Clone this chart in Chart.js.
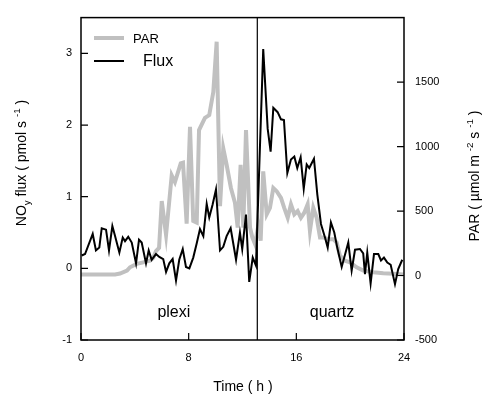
<!DOCTYPE html>
<html>
<head>
<meta charset="utf-8">
<script src="https://cdn.jsdelivr.net/npm/chart.js@4.4.1/dist/chart.umd.min.js"></script>
<style>
  html, body { margin: 0; padding: 0; background: #fff; }
  #wrap { width: 486px; height: 405px; }
</style>
</head>
<body>
<div id="wrap"><canvas id="fluxChart" width="486" height="405"></canvas></div>
<script>
// NOy flux (left axis) readings
const fluxTime = [0.05, 0.30, 0.87, 1.11, 1.36, 1.54, 1.86, 2.08, 2.33, 2.53, 2.85, 3.10, 3.27, 3.51, 3.77,
  4.09, 4.31, 4.51, 4.83, 5.03, 5.25, 5.57, 5.82, 6.11, 6.32, 6.56, 6.81, 7.06, 7.30, 7.56, 7.80, 8.05,
  8.34, 8.60, 8.84, 9.09, 9.34, 9.53, 9.78, 10.03, 10.33, 10.57, 10.82, 11.12, 11.52, 11.81, 11.98, 12.26,
  12.50, 12.76, 13.00, 13.54, 13.87, 14.09, 14.29, 14.61, 14.86, 15.08, 15.33, 15.60, 15.85, 16.07, 16.32,
  16.55, 16.77, 16.96, 17.31, 17.56, 17.83, 18.13, 18.33, 18.57, 18.82, 19.04, 19.37, 19.86, 20.11, 20.36,
  20.73, 20.97, 21.10, 21.27, 21.52, 21.77, 22.09, 22.29, 22.51, 22.76, 23.01, 23.33, 23.57, 23.87];
const fluxValues = [0.18, 0.20, 0.48, 0.25, 0.29, 0.56, 0.54, 0.25, 0.59, 0.45, 0.22, 0.43, 0.38, 0.44, 0.36,
  0.07, 0.40, 0.36, 0.07, 0.25, 0.12, 0.20, 0.16, 0.13, -0.05, 0.07, 0.13, -0.17, 0.12, 0.27, 0.02, 0.00,
  0.15, 0.35, 0.55, 0.45, 0.90, 0.71, 0.89, 1.10, 0.25, 0.30, 0.45, 0.56, 0.12, 0.50, 0.27, 0.75,
  -0.19, 0.15, 0.04, 3.06, 1.95, 1.63, 2.24, 2.18, 2.08, 2.07, 1.33, 1.52, 1.56, 1.40, 1.55,
  1.11, 1.45, 1.40, 1.53, 1.03, 0.62, 0.43, 0.29, 0.64, 0.50, 0.29, 0.02, 0.36, -0.03, 0.26,
  0.27, 0.21, -0.08, 0.22, -0.21, 0.20, 0.20, 0.11, 0.15, 0.08, 0.05, -0.22, -0.01, 0.12];

// PAR (right axis) readings
const parTime = [0, 2.53, 2.90, 3.42, 3.64, 4.14, 4.63, 5.13, 5.37, 5.57, 5.80, 6.00, 6.32, 6.74, 6.98,
  7.41, 7.58, 7.85, 8.10, 8.34, 8.60, 8.77, 9.21, 9.53, 9.83, 10.08, 10.33, 10.57, 10.82, 11.14, 11.44,
  11.64, 11.86, 12.06, 12.26, 12.56, 12.73, 12.93, 13.17, 13.35, 13.54, 13.80, 14.04, 14.29, 14.54, 14.86,
  15.10, 15.36, 15.60, 15.85, 16.10, 16.34, 16.59, 16.84, 17.01, 17.26, 17.51, 17.76, 18.00, 18.37, 18.74,
  19.00, 19.24, 19.61, 19.99, 20.48, 20.97, 21.72, 22.46, 23.20, 23.95];
const parValues = [8, 8, 15, 38, 64, 90, 102, 115, 138, 190, 215, 577, 315, 777, 725,
  870, 875, 402, 1154, 423, 410, 1128, 1223, 1244, 1423, 1813, 538, 987, 859, 679, 564,
  372, 859, 372, 1128, 372, 295, 244, 385, 270, 808, 475, 525, 679, 654, 602,
  525, 448, 552, 475, 500, 448, 487, 552, 346, 525, 448, 295, 295, 282, 282,
  256, 154, 115, 102, 64, 38, 25, 18, 13, 8];

const xTicks = [0, 8, 16, 24];
const fluxTicks = [-1, 0, 1, 2, 3];
const parTicks = [-500, 0, 500, 1000, 1500];
const splitTime = 13.1;   // plexi -> quartz
const regionLabels = [{ text: 'plexi', t: 6.9 }, { text: 'quartz', t: 18.65 }];

const FONT = '"Liberation Sans", Arial, sans-serif';

// draw a run of text pieces, some raised/lowered, starting at x (baseline y)
function drawPieces(ctx, pieces, x, y, size) {
  pieces.forEach(p => {
    const s = p.small ? size * 0.7 : size;
    ctx.font = s + 'px ' + FONT;
    const dy = p.sup ? -size * 0.45 : (p.sub ? size * 0.3 : 0);
    ctx.fillText(p.text, x, y + dy);
    x += ctx.measureText(p.text).width;
  });
}
function piecesWidth(ctx, pieces, size) {
  let w = 0;
  pieces.forEach(p => {
    ctx.font = (p.small ? size * 0.7 : size) + 'px ' + FONT;
    w += ctx.measureText(p.text).width;
  });
  return w;
}

const decorPlugin = {
  id: 'decor',
  afterDraw(chart) {
    const ctx = chart.ctx;
    const a = chart.chartArea;
    const xs = chart.scales.x, yl = chart.scales.y, yr = chart.scales.y1;
    ctx.save();
    ctx.strokeStyle = '#000';
    ctx.fillStyle = '#000';

    // frame
    ctx.lineWidth = 1.5;
    ctx.strokeRect(a.left, a.top, a.right - a.left, a.bottom - a.top);

    // inward ticks
    ctx.lineWidth = 1.2;
    ctx.beginPath();
    xTicks.forEach(v => { const px = xs.getPixelForValue(v); ctx.moveTo(px, a.bottom); ctx.lineTo(px, a.bottom - 7); });
    fluxTicks.forEach(v => { const py = yl.getPixelForValue(v); ctx.moveTo(a.left, py); ctx.lineTo(a.left + 7, py); });
    parTicks.forEach(v => { const py = yr.getPixelForValue(v); ctx.moveTo(a.right, py); ctx.lineTo(a.right - 7, py); });
    ctx.stroke();

    // split line
    const sx = xs.getPixelForValue(splitTime);
    ctx.lineWidth = 1.2;
    ctx.beginPath();
    ctx.moveTo(sx, a.top);
    ctx.lineTo(sx, a.bottom);
    ctx.stroke();

    // region labels
    ctx.font = '16px ' + FONT;
    ctx.textAlign = 'center';
    ctx.textBaseline = 'alphabetic';
    regionLabels.forEach(r => ctx.fillText(r.text, xs.getPixelForValue(r.t), 317));

    // legend
    ctx.textAlign = 'left';
    ctx.textBaseline = 'middle';
    ctx.lineCap = 'butt';
    ctx.strokeStyle = '#c0c0c0';
    ctx.lineWidth = 4;
    ctx.beginPath(); ctx.moveTo(94, 38); ctx.lineTo(124, 38); ctx.stroke();
    ctx.font = '13px ' + FONT;
    ctx.fillText('PAR', 133, 39);
    ctx.strokeStyle = '#000';
    ctx.lineWidth = 2;
    ctx.beginPath(); ctx.moveTo(94, 61); ctx.lineTo(124, 61); ctx.stroke();
    ctx.font = '16px ' + FONT;
    ctx.fillText('Flux', 143, 62);

    // axis titles
    ctx.textBaseline = 'alphabetic';
    ctx.font = '14px ' + FONT;
    ctx.textAlign = 'center';
    ctx.fillText('Time ( h )', 243, 391);

    ctx.textAlign = 'left';
    const leftT = [{ text: 'NO' }, { text: 'y', sub: true, small: true }, { text: ' flux ( pmol s ' },
      { text: '-1', sup: true, small: true }, { text: ' )' }];
    const rightT = [{ text: 'PAR ( µmol m ' }, { text: '-2', sup: true, small: true }, { text: ' s ' },
      { text: '-1', sup: true, small: true }, { text: ' )' }];

    ctx.save();
    ctx.translate(26, 163);
    ctx.rotate(-Math.PI / 2);
    drawPieces(ctx, leftT, -piecesWidth(ctx, leftT, 14) / 2, 0, 14);
    ctx.restore();

    ctx.save();
    ctx.translate(479, 176);
    ctx.rotate(-Math.PI / 2);
    drawPieces(ctx, rightT, -piecesWidth(ctx, rightT, 14) / 2, 0, 14);
    ctx.restore();

    ctx.restore();
  }
};

const plainTick = v => String(v);

new Chart(document.getElementById('fluxChart'), {
  type: 'line',
  data: {
    datasets: [
      {
        label: 'Flux',
        data: fluxTime.map((t, i) => ({ x: t, y: fluxValues[i] })),
        yAxisID: 'y',
        borderColor: '#000',
        borderWidth: 2,
        pointRadius: 0,
        tension: 0,
        order: 0,
      },
      {
        label: 'PAR',
        data: parTime.map((t, i) => ({ x: t, y: parValues[i] })),
        yAxisID: 'y1',
        borderColor: '#c0c0c0',
        borderWidth: 4,
        pointRadius: 0,
        tension: 0,
        order: 1,
      },
    ],
  },
  options: {
    responsive: false,
    animation: false,
    layout: { padding: { top: 15, left: 0, right: 0, bottom: 0 } },
    plugins: { legend: { display: false }, tooltip: { enabled: false } },
    scales: {
      x: {
        type: 'linear',
        min: 0,
        max: 24,
        afterBuildTicks: s => { s.ticks = xTicks.map(v => ({ value: v })); },
        afterFit: s => { s.height = 65; },
        grid: { display: false, drawTicks: false },
        border: { display: false },
        ticks: { color: '#000', font: { size: 11, family: FONT }, padding: 11, maxRotation: 0, callback: plainTick },
      },
      y: {
        position: 'left',
        min: -1,
        max: 3.5,
        afterBuildTicks: s => { s.ticks = fluxTicks.map(v => ({ value: v })); },
        afterFit: s => { s.width = 81; },
        grid: { display: false, drawTicks: false },
        border: { display: false },
        ticks: { color: '#000', font: { size: 11, family: FONT }, padding: 9, callback: plainTick },
      },
      y1: {
        position: 'right',
        min: -500,
        max: 2000,
        afterBuildTicks: s => { s.ticks = parTicks.map(v => ({ value: v })); },
        afterFit: s => { s.width = 82; },
        grid: { display: false, drawTicks: false },
        border: { display: false },
        ticks: { color: '#000', font: { size: 11, family: FONT }, padding: 11, callback: plainTick },
      },
    },
  },
  plugins: [decorPlugin],
});
</script>
</body>
</html>
